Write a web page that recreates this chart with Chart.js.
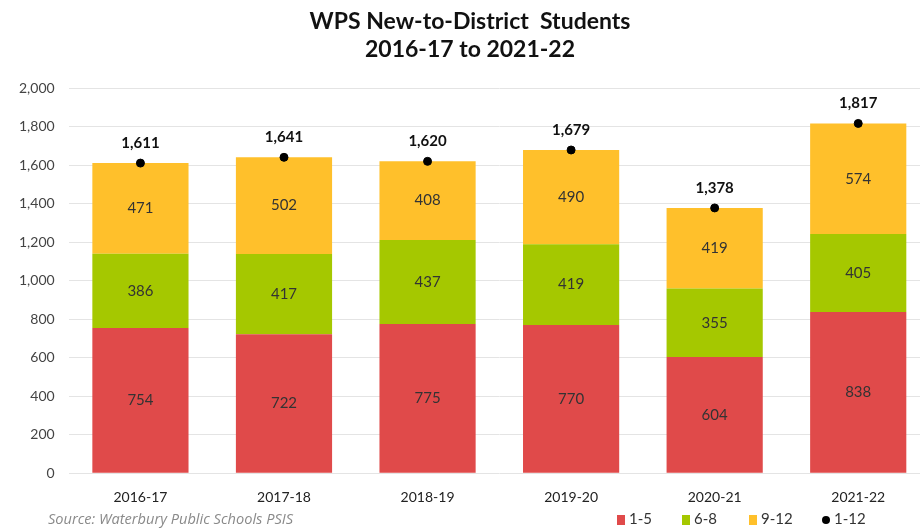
<!DOCTYPE html>
<html>
<head>
<meta charset="utf-8">
<script src="https://cdn.jsdelivr.net/npm/chart.js@4/dist/chart.umd.min.js"></script>
<style>
  html, body { margin: 0; padding: 0; background: #fff; overflow: hidden; }
  #wrap { position: relative; width: 935px; height: 528px; }
  #source { position: absolute; left: 48px; top: 508px; font: italic 14.6px "Open Sans", sans-serif; color: #8a8a8a; }
  .lg { position: absolute; top: 508px; font: 15px Lato, sans-serif; color: #333; line-height: 20px; }
  .lg i { display: inline-block; width: 8px; height: 10px; margin-right: 4px; vertical-align: -1px; }
  .lg i.dot { width: 8px; height: 8px; border-radius: 50%; vertical-align: 0; }
</style>
</head>
<body>
<div id="wrap">
  <canvas id="chart"></canvas>
  <div id="source">Source: Waterbury Public Schools PSIS</div>
  <div id="legend"></div>
</div>
<script>
const years = ['2016-17', '2017-18', '2018-19', '2019-20', '2020-21', '2021-22'];
const grades1to5 = [754, 722, 775, 770, 604, 838];
const grades6to8 = [386, 417, 437, 419, 355, 405];
const grades9to12 = [471, 502, 408, 490, 419, 574];
const totals = [1611, 1641, 1620, 1679, 1378, 1817];

const red = '#e04a4a';
const green = '#a5c800';
const yellow = '#ffc02b';

// legend built by hand so it can sit where the original has it
const legendItems = [
  { text: '1-5', color: red, left: 617, dot: false },
  { text: '6-8', color: green, left: 682, dot: false },
  { text: '9-12', color: yellow, left: 749, dot: false },
  { text: '1-12', color: '#000', left: 822, dot: true }
];
const legendDiv = document.getElementById('legend');
legendItems.forEach(function(item) {
  const span = document.createElement('span');
  span.className = 'lg';
  span.style.left = item.left + 'px';
  const box = document.createElement('i');
  if (item.dot) box.className = 'dot';
  box.style.background = item.color;
  span.appendChild(box);
  span.appendChild(document.createTextNode(item.text));
  legendDiv.appendChild(span);
});

// draws the numbers inside bars and the totals above dots
const labelPlugin = {
  id: 'labels',
  afterDatasetsDraw(chart) {
    const ctx = chart.ctx;
    ctx.save();
    ctx.textAlign = 'center';
    ctx.textBaseline = 'middle';
    chart.data.datasets.forEach(function(ds, i) {
      const meta = chart.getDatasetMeta(i);
      meta.data.forEach(function(el, j) {
        if (ds.type === 'line') {
          ctx.font = 'bold 15px Lato, sans-serif';
          ctx.fillStyle = '#111';
          ctx.fillText(ds.data[j].toLocaleString('en-US'), el.x, el.y - 20);
        } else {
          ctx.font = '15px Lato, sans-serif';
          ctx.fillStyle = '#333';
          ctx.fillText(ds.data[j], el.x, (el.y + el.base) / 2);
        }
      });
    });
    ctx.restore();
  }
};

new Chart(document.getElementById('chart'), {
  type: 'bar',
  data: {
    labels: years,
    datasets: [
      {
        type: 'line',
        label: '1-12',
        data: totals,
        showLine: false,
        pointRadius: 4,
        pointHoverRadius: 4,
        pointBackgroundColor: '#000',
        pointBorderColor: '#000',
        backgroundColor: '#000',
        borderColor: '#000',
        order: 0
      },
      { label: '1-5', data: grades1to5, backgroundColor: red, stack: 's', order: 1 },
      { label: '6-8', data: grades6to8, backgroundColor: green, stack: 's', order: 1 },
      { label: '9-12', data: grades9to12, backgroundColor: yellow, stack: 's', order: 1 }
    ]
  },
  options: {
    responsive: true,
    maintainAspectRatio: false,
    animation: false,
    layout: { padding: { left: 5, right: 0, top: 4, bottom: 14 } },
    datasets: { bar: { categoryPercentage: 0.67, barPercentage: 1 } },
    plugins: {
      title: {
        display: true,
        text: ['WPS New-to-District  Students', '2016-17 to 2021-22'],
        font: { family: 'Lato, sans-serif', size: 23, weight: 'bold' },
        color: '#111',
        padding: { top: 4, bottom: 25 },
        lineHeight: 1.25
      },
      legend: { display: false },
      tooltip: { enabled: false }
    },
    scales: {
      x: {
        stacked: true,
        grid: { display: false },
        border: { display: false },
        ticks: { font: { family: 'Lato, sans-serif', size: 14 }, color: '#222', padding: 8 }
      },
      y: {
        stacked: true,
        min: 0,
        max: 2000,
        ticks: {
          stepSize: 200,
          font: { family: 'Lato, sans-serif', size: 14 },
          color: '#444',
          padding: 14,
          callback: function(value) { return value.toLocaleString('en-US'); }
        },
        grid: { color: '#e4e4e4', drawTicks: false },
        border: { display: false }
      }
    }
  },
  plugins: [labelPlugin]
});
</script>
</body>
</html>
